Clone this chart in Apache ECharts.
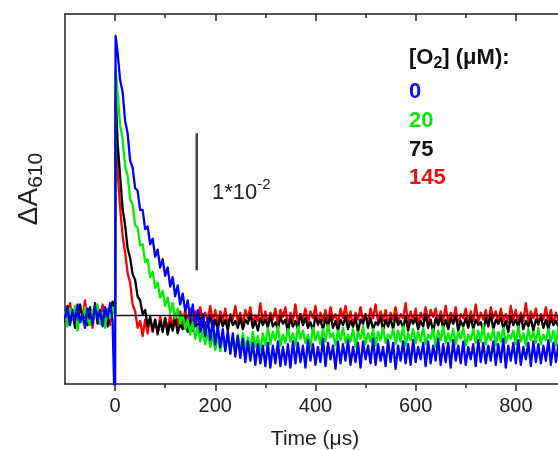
<!DOCTYPE html>
<html><head><meta charset="utf-8">
<script src="https://cdn.jsdelivr.net/npm/echarts@6/dist/echarts.min.js"></script>
<style>html,body{margin:0;padding:0;background:#fff}#c{width:558px;height:450px}</style>
</head><body><div id="c"></div>
<script>
// Time axis (μs) and ΔA610 values in units of 1e-3 (scale bar = 1*10^-2 = 10 units)
const timeUs = [
-100,-95,-90,-85,-80,-75,-70,-65,-60,-55,
-50,-45,-40,-35,-30,-25,-20,-15,-10,-5,
0,1,
5,10,15,20,25,30,35,40,45,50,
55,60,65,70,75,80,85,90,95,100,
105,110,115,120,125,130,135,140,145,150,
155,160,165,170,175,180,185,190,195,200,
205,210,215,220,225,230,235,240,245,250,
255,260,265,270,275,280,285,290,295,300,
305,310,315,320,325,330,335,340,345,350,
355,360,365,370,375,380,385,390,395,400,
405,410,415,420,425,430,435,440,445,450,
455,460,465,470,475,480,485,490,495,500,
505,510,515,520,525,530,535,540,545,550,
555,560,565,570,575,580,585,590,595,600,
605,610,615,620,625,630,635,640,645,650,
655,660,665,670,675,680,685,690,695,700,
705,710,715,720,725,730,735,740,745,750,
755,760,765,770,775,780,785,790,795,800,
805,810,815,820,825,830,835,840,845,850,
855,860,865,870,875,880,885,890];

// [O2] = 145 μM (red)
const dA_145uM = [
0.4,-0.6,0.9,-0.3,0.2,-0.8,0.6,-0.1,1.1,-0.5,
0.3,-0.9,0.5,0.0,-0.6,0.8,-0.2,0.4,-0.7,0.6,
0.2,15.4,
10.5,7.9,5.8,4.6,3.1,2.4,0.8,0.3,-0.9,-0.4,
-1.5,-0.3,-1.3,-0.2,-1.2,-0.3,-1.4,-0.1,-1.0,-0.2,
-1.0,0.0,-0.8,0.2,-0.7,0.3,-0.6,0.4,-0.5,0.5,
-0.6,0.3,-0.4,0.6,-0.7,0.2,-0.3,0.7,-0.5,0.4,
-0.6,0.3,-0.4,0.5,-0.8,0.1,-0.3,0.7,-0.5,0.2,
-0.7,0.4,-0.2,0.6,-0.6,0.0,-0.4,0.9,-0.5,0.3,
-0.6,0.2,-0.3,0.5,-0.7,0.4,-0.1,0.6,-0.8,0.2,
-0.4,0.8,-0.5,0.1,-0.3,0.5,-0.6,0.3,-0.2,0.7,
-0.7,0.2,-0.4,0.4,-0.5,0.6,-0.3,0.1,-0.6,0.5,
-0.2,0.7,-0.5,0.3,-0.8,0.2,-0.3,0.6,-0.4,0.0,
-0.6,0.5,-0.2,0.8,-0.5,0.3,-0.4,0.4,-0.7,0.2,
-0.3,0.6,-0.5,0.1,-0.2,0.9,-0.6,0.3,-0.4,0.5,
-0.7,0.2,-0.3,0.6,-0.5,0.4,-0.1,0.5,-0.6,0.3,
-0.4,0.7,-0.5,0.2,-0.3,0.6,-0.8,0.1,-0.2,0.5,
-0.6,0.3,-0.4,0.8,-0.5,0.2,-0.3,0.4,-0.7,0.6,
-0.2,0.3,-0.6,0.5,-0.4,0.1,-0.5,0.7,-0.3,0.4,
-0.6,0.2,-0.4,0.9,-0.5,0.3,-0.2,0.5,-0.7,0.1,
-0.3,0.6,-0.5,0.4,-0.6,0.2,-0.4,0.5];

// [O2] = 75 μM (black)
const dA_75uM = [
-0.5,0.7,-0.2,0.4,-0.9,0.3,0.8,-0.4,0.1,-0.7,
0.6,-0.3,0.9,-0.6,0.2,-0.1,0.5,-0.8,0.3,1.0,
0.1,16.6,
12.6,10.2,7.8,6.6,4.9,4.2,3.0,2.6,1.4,1.1,
0.1,0.4,-0.8,-0.1,-1.1,-0.3,-1.3,-0.4,-1.2,-0.2,
-1.4,-0.5,-1.1,-0.2,-1.3,-0.6,-1.0,-0.1,-1.2,-0.4,
-1.1,-0.3,-0.9,-0.2,-1.2,-0.5,-0.8,0.0,-1.0,-0.3,
-1.0,-0.1,-0.8,-0.3,-1.1,0.0,-0.7,-0.4,-0.9,-0.2,
-1.0,-0.3,-0.6,0.1,-0.9,-0.4,-1.1,-0.2,-0.7,-0.3,
-0.9,0.0,-0.8,-0.5,-1.0,-0.1,-0.6,-0.3,-1.2,-0.2,
-0.8,-0.4,-1.0,0.1,-0.7,-0.2,-0.9,-0.5,-1.1,-0.1,
-0.6,-0.3,-1.0,-0.2,-0.8,0.0,-0.9,-0.4,-1.1,-0.3,
-0.7,-0.1,-1.0,-0.4,-0.8,-0.2,-1.2,-0.3,-0.6,0.1,
-0.9,-0.2,-1.0,-0.5,-0.7,-0.1,-1.1,-0.3,-0.8,-0.2,
-1.0,0.0,-0.7,-0.4,-0.9,-0.1,-1.1,-0.3,-0.6,-0.2,
-1.0,-0.4,-0.8,0.1,-0.9,-0.3,-1.2,-0.2,-0.7,-0.1,
-0.9,-0.3,-1.0,-0.2,-0.6,0.0,-1.1,-0.4,-0.8,-0.2,
-0.9,-0.1,-1.0,-0.3,-0.7,-0.5,-1.1,-0.2,-0.8,0.1,
-1.0,-0.3,-0.6,-0.2,-0.9,-0.4,-1.2,-0.1,-0.7,-0.3,
-0.9,0.0,-1.0,-0.4,-0.8,-0.2,-1.1,-0.3,-0.6,-0.1,
-0.9,-0.3,-1.0,-0.2,-0.7,-0.4,-0.8,-0.1];

// [O2] = 20 μM (green)
const dA_20uM = [
0.3,-0.8,0.5,-0.2,0.7,-1.1,0.1,-0.5,0.6,-0.3,
-0.7,0.4,-0.1,0.8,-0.6,0.2,-0.9,0.5,-0.2,0.6,
0.0,18.0,
16.3,13.9,12.9,10.9,10.2,8.5,8.1,6.6,6.4,5.1,
5.2,3.9,4.1,2.8,3.2,2.0,2.4,1.3,1.8,0.7,
1.3,0.2,0.9,-0.2,0.5,-0.6,0.1,-1.0,-0.3,-1.4,
-0.5,-1.7,-0.8,-1.9,-1.0,-2.1,-1.2,-2.3,-1.4,-2.5,
-1.4,-2.6,-1.5,-2.5,-1.3,-2.7,-1.6,-2.4,-1.4,-2.6,
-1.3,-2.5,-1.6,-2.4,-1.2,-2.3,-1.5,-2.6,-1.3,-2.2,
-0.9,-2.1,-1.2,-1.8,-0.8,-2.2,-1.4,-2.0,-1.0,-1.9,
-1.3,-2.2,-0.8,-1.7,-1.1,-2.0,-1.4,-2.3,-0.9,-1.8,
-1.2,-2.1,-1.0,-1.9,-0.7,-1.6,-1.3,-2.2,-1.1,-1.8,
-0.9,-2.0,-1.4,-1.9,-1.0,-2.3,-1.2,-1.7,-0.8,-2.1,
-1.3,-1.9,-1.0,-2.2,-1.2,-1.8,-0.9,-2.0,-1.4,-1.7,
-1.0,-2.1,-1.1,-1.9,-0.8,-2.2,-1.3,-1.8,-1.0,-2.0,
-1.2,-1.9,-0.9,-2.1,-1.4,-1.7,-1.0,-2.3,-1.1,-1.8,
-0.8,-2.0,-1.3,-1.9,-1.0,-2.1,-1.2,-1.7,-0.9,-2.2,
-1.4,-1.8,-1.0,-2.0,-1.1,-1.9,-0.7,-2.1,-1.3,-1.8,
-1.0,-2.2,-1.2,-1.9,-0.9,-2.0,-1.4,-1.7,-1.1,-2.1,
-0.8,-1.9,-1.3,-2.2,-1.0,-1.8,-1.2,-2.0,-0.9,-2.1,
-1.4,-1.8,-1.0,-1.9,-1.1,-2.2,-0.8,-2.0];

// [O2] = 0 μM (blue)
const dA_0uM = [
-0.2,0.6,-0.7,0.3,-0.4,0.8,-0.5,0.1,-0.9,0.5,
0.2,-0.6,0.7,-0.3,0.4,-0.8,0.6,-0.1,0.9,-0.4,
-8.0,20.4,
19.2,17.2,16.3,14.2,13.3,11.3,10.8,9.3,9.1,7.7,
7.7,6.3,6.5,5.2,5.6,4.3,4.8,3.5,4.1,2.9,
3.5,2.1,2.8,1.4,2.2,0.8,1.6,0.3,1.1,-0.3,
0.8,-0.8,0.4,-1.2,0.1,-1.5,-0.2,-1.8,-0.4,-2.1,
-0.8,-2.3,-1.0,-2.6,-1.1,-2.8,-1.3,-3.0,-1.5,-3.1,
-1.7,-3.4,-1.9,-3.3,-2.0,-3.6,-2.1,-3.5,-2.2,-3.7,
-2.0,-3.8,-2.2,-3.5,-1.9,-3.7,-2.3,-3.6,-2.1,-3.8,
-1.9,-3.5,-2.0,-3.4,-2.2,-3.8,-1.8,-3.3,-2.1,-3.6,
-2.3,-3.4,-1.7,-3.7,-2.0,-3.2,-2.2,-3.9,-1.9,-3.5,
-2.1,-3.3,-1.8,-3.6,-2.3,-3.4,-2.0,-3.8,-1.9,-3.2,
-2.2,-3.5,-1.7,-3.6,-2.1,-3.3,-2.3,-3.7,-1.8,-3.4,
-2.0,-3.9,-2.2,-3.3,-1.9,-3.5,-2.1,-3.6,-1.8,-3.4,
-2.3,-3.2,-2.0,-3.7,-1.9,-3.5,-2.2,-3.3,-1.7,-3.6,
-2.1,-3.4,-2.0,-3.8,-1.8,-3.3,-2.2,-3.5,-1.9,-3.6,
-2.3,-3.2,-2.1,-3.7,-1.8,-3.4,-2.0,-3.5,-2.2,-3.3,
-1.9,-3.6,-2.1,-3.4,-1.7,-3.8,-2.2,-3.3,-2.0,-3.5,
-1.8,-3.6,-2.3,-3.2,-2.0,-3.7,-1.9,-3.4,-2.1,-3.5,
-2.2,-3.3,-1.8,-3.6,-2.0,-3.4,-2.1,-3.5];

const legendLabels = ['0', '20', '75', '145'];
const xTickLabels = [0, 200, 400, 600, 800, 1000];
const xMinorTicks = [100, 300, 500, 700, 900];
const zeroLineT = [0, 1000], zeroLineV = [0, 0];
const scaleBarT = [163, 163], scaleBarV = [3.3, 13.3];

const FF = "'Liberation Sans', Arial, sans-serif";
const AX = '#222';
const colors = {blue: '#0000ff', green: '#00ee00', black: '#000000', red: '#ff0000'};

const pairs = (ts, vs) => ts.slice(0, Math.min(ts.length, vs.length)).map((t, i) => [t, vs[i]]);
const trace = (name, vals, color, z, w) => ({
  type: 'line', name, data: pairs(timeUs, vals), showSymbol: false, symbol: 'none',
  lineStyle: {color, width: w || 2.3, join: 'round'}, itemStyle: {color}, z, silent: true,
  emphasis: {disabled: true}, animation: false
});

const xBase = {type: 'value', min: -100, max: 1000, interval: 100, splitLine: {show: false}};
const chart = echarts.init(document.getElementById('c'), null, {renderer: 'canvas'});
chart.setOption({
  animation: false,
  backgroundColor: '#fff',
  grid: {left: 65, right: -58, top: 14, bottom: 66, containLabel: false, outerBoundsMode: 'none'},
  xAxis: [
    Object.assign({}, xBase, {position: 'bottom',
      axisLine: {show: true, onZero: false, lineStyle: {color: AX, width: 1.5}},
      axisTick: {show: true, inside: false, length: 7, customValues: xTickLabels, lineStyle: {color: AX, width: 1.5}},
      axisLabel: {show: true, customValues: xTickLabels, fontSize: 20, fontFamily: FF, color: AX, margin: 12}}),
    Object.assign({}, xBase, {position: 'bottom',
      axisLine: {show: false, onZero: false},
      axisTick: {show: true, inside: false, length: 4, customValues: xMinorTicks, lineStyle: {color: AX, width: 1.5}},
      axisLabel: {show: false}}),
    Object.assign({}, xBase, {position: 'top',
      axisLine: {show: true, onZero: false, lineStyle: {color: AX, width: 1.5}},
      axisTick: {show: true, inside: true, length: 7, customValues: xTickLabels, lineStyle: {color: AX, width: 1.5}},
      axisLabel: {show: false}}),
    Object.assign({}, xBase, {position: 'top',
      axisLine: {show: false, onZero: false},
      axisTick: {show: true, inside: true, length: 4, customValues: xMinorTicks, lineStyle: {color: AX, width: 1.5}},
      axisLabel: {show: false}})
  ],
  yAxis: {type: 'value', min: -5, max: 22, position: 'left',
    axisLine: {show: true, onZero: false, lineStyle: {color: AX, width: 1.5}},
    axisTick: {show: false}, axisLabel: {show: false}, splitLine: {show: false}},
  series: [
    trace('145', dA_145uM, colors.red, 2),
    trace('75', dA_75uM, colors.black, 3),
    trace('20', dA_20uM, colors.green, 4),
    trace('0', dA_0uM, colors.blue, 5),
    {type: 'line', data: pairs(zeroLineT, zeroLineV), showSymbol: false, symbol: 'none',
      lineStyle: {color: '#111', width: 1.3}, z: 6, silent: true, animation: false},
    {type: 'line', data: pairs(scaleBarT, scaleBarV), showSymbol: false, symbol: 'none',
      lineStyle: {color: '#444', width: 2.5}, z: 6, silent: true, animation: false}
  ],
  graphic: [
    {type: 'text', x: 29, y: 189, rotation: Math.PI / 2, silent: true,
      style: {text: '{a|ΔA}{s|610}', align: 'center', verticalAlign: 'middle', fill: AX,
        rich: {a: {fontSize: 28, fontFamily: FF, fill: AX, color: AX, lineHeight: 36, verticalAlign: 'middle'},
               s: {fontSize: 21, fontFamily: FF, fill: AX, color: AX, lineHeight: 22, verticalAlign: 'bottom'}}}},
    {type: 'text', x: 315, y: 439, silent: true,
      style: {text: 'Time (μs)', font: '21px ' + FF, fill: AX, align: 'center', verticalAlign: 'middle'}},
    {type: 'text', x: 212, y: 193, silent: true,
      style: {text: '{n|1*10}{p|-2}', align: 'left', verticalAlign: 'middle', fill: AX,
        rich: {n: {fontSize: 22, fontFamily: FF, fill: AX, color: AX, lineHeight: 32, verticalAlign: 'middle'},
               p: {fontSize: 15, fontFamily: FF, fill: AX, color: AX, lineHeight: 16, verticalAlign: 'top'}}}},
    {type: 'text', x: 409, y: 58, silent: true,
      style: {text: '{b|[O}{s|2}{b|] (μM):}', align: 'left', verticalAlign: 'middle', fill: '#111',
        rich: {b: {fontSize: 22, fontWeight: 'bold', fontFamily: FF, fill: '#111', color: '#111', lineHeight: 28, verticalAlign: 'middle'},
               s: {fontSize: 16, fontWeight: 'bold', fontFamily: FF, fill: '#111', color: '#111', lineHeight: 16, verticalAlign: 'bottom'}}}},
    {type: 'text', x: 409, y: 92, silent: true,
      style: {text: legendLabels[0], font: 'bold 22px ' + FF, fill: '#1010f0', align: 'left', verticalAlign: 'middle'}},
    {type: 'text', x: 409, y: 120.5, silent: true,
      style: {text: legendLabels[1], font: 'bold 22px ' + FF, fill: '#11e011', align: 'left', verticalAlign: 'middle'}},
    {type: 'text', x: 409, y: 149.5, silent: true,
      style: {text: legendLabels[2], font: 'bold 22px ' + FF, fill: '#111', align: 'left', verticalAlign: 'middle'}},
    {type: 'text', x: 409, y: 177.5, silent: true,
      style: {text: legendLabels[3], font: 'bold 22px ' + FF, fill: '#f01010', align: 'left', verticalAlign: 'middle'}}
  ]
});
</script></body></html>
